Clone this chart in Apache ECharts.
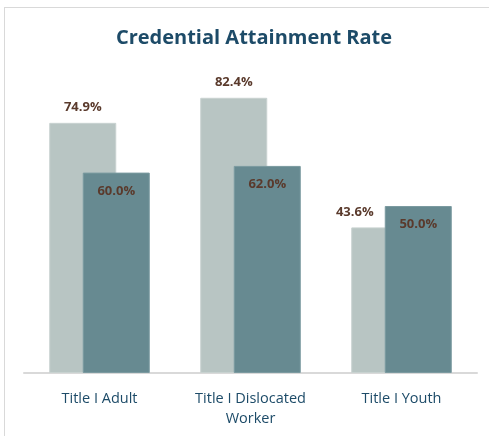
<!DOCTYPE html>
<html>
<head>
<meta charset="utf-8">
<script src="https://cdn.jsdelivr.net/npm/echarts@6/dist/echarts.min.js"></script>
<style>
  html, body { margin: 0; padding: 0; background: #fff; overflow: hidden; width: 489px; height: 436px; }
  #frame { position: absolute; left: 4px; top: 7px; width: 485px; height: 429px;
           border-top: 1px solid #d9d9d9; border-left: 1px solid #d9d9d9; box-sizing: border-box; }
  #chart { position: absolute; left: 0; top: 0; width: 489px; height: 436px; }
</style>
</head>
<body>
<div id="frame"></div>
<div id="chart"></div>
<script>
const categories = ['Title I Adult', 'Title I Dislocated\nWorker', 'Title I Youth'];
const seriesA = [74.9, 82.4, 43.6];
const seriesB = [60.0, 62.0, 50.0];

const labelColor = '#5a3a2c';
const fontFamily = '"Open Sans", "Liberation Sans", sans-serif';

const chart = echarts.init(document.getElementById('chart'), null, { renderer: 'canvas' });

chart.setOption({
  animation: false,
  title: {
    text: 'Credential Attainment Rate',
    left: 249, top: 23, textAlign: 'center',
    textStyle: { color: '#1d4b68', fontSize: 20, fontWeight: 'bold', fontFamily }
  },
  grid: { left: 24, right: 12, top: 39, height: 334 },
  xAxis: {
    type: 'category',
    data: categories,
    axisLine: { lineStyle: { color: '#d9d9d9', width: 2 } },
    axisTick: { show: false },
    axisLabel: { color: '#1d4b68', fontSize: 14.5, fontFamily, lineHeight: 20, margin: 16 }
  },
  yAxis: { type: 'value', min: 0, max: 100, show: false },
  series: [
    {
      type: 'bar',
      data: seriesA.map((v, i) => i === 2
        ? { value: v, label: { offset: [-30, 0] } }
        : v),
      barWidth: 67,
      barGap: '-50%',
      itemStyle: { color: '#b8c5c3', borderColor: '#c8d2d0', borderWidth: 1 },
      label: {
        show: true, position: 'top', distance: 9,
        formatter: p => p.value.toFixed(1) + '%',
        color: labelColor, fontSize: 13, fontWeight: 'bold', fontFamily
      }
    },
    {
      type: 'bar',
      data: seriesB,
      barWidth: 67,
      barGap: '-50%',
      itemStyle: { color: '#678a91', borderColor: '#7b9aa0', borderWidth: 1 },
      label: {
        show: true, position: 'insideTop', distance: 12,
        formatter: p => p.value.toFixed(1) + '%',
        color: labelColor, fontSize: 13, fontWeight: 'bold', fontFamily
      }
    }
  ]
});
</script>
</body>
</html>
